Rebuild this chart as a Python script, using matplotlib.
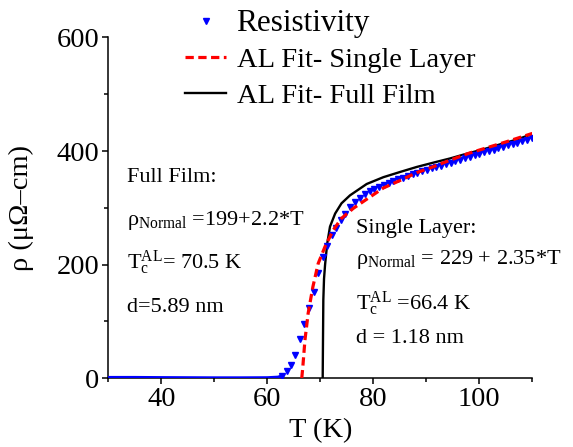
import matplotlib
matplotlib.use("Agg")
import matplotlib.pyplot as plt
from matplotlib.ticker import MultipleLocator

plt.rcParams['font.family'] = 'Liberation Serif'
plt.rcParams['mathtext.fontset'] = 'custom'
plt.rcParams['mathtext.rm'] = 'Liberation Serif'
plt.rcParams['mathtext.it'] = 'Liberation Serif:italic'

# measured resistivity, flat superconducting part (drawn as a line)
T_flat = [30, 35, 40, 45, 50, 55, 60, 62, 62.7]
rho_flat = [1.5, 1.5, 1.2, 1.0, 0.8, 0.8, 1.0, 2.0, 4.0]

# measured resistivity, transition and normal state
T_res = [62.7, 63.7, 64.4, 65.2, 66.2, 67.0, 67.9, 68.8, 69.6, 70.45,
         71.3, 72.15, 72.95, 73.85, 74.65, 75.6, 76.55, 77.5, 78.4, 79.3,
         80.2, 81.1, 82.0, 82.9, 83.8, 84.7, 85.6, 86.5, 87.4, 88.3,
         89.2, 90.1, 91.0, 91.9, 92.8, 93.7, 94.6, 95.5, 96.4, 97.3,
         98.2, 99.1, 100.0, 100.9, 101.8, 102.7, 103.6, 104.5, 105.4, 106.3,
         107.2, 108.1, 109.0, 109.9]
rho_res = [4, 12, 23, 41, 70, 95, 123, 152, 185, 214,
           232, 252, 264, 278, 290, 302, 311, 318, 325, 329,
           333, 337, 340.5, 344, 347, 350, 353, 356, 359, 361.5,
           364, 367, 369.5, 372, 374.5, 377, 379.5, 382, 385, 387.5,
           390, 392.5, 395, 397.5, 400, 402.5, 405, 407.5, 410, 412.5,
           415, 417.5, 420, 423]

# AL fit, single layer (Tc = 66.4 K, d = 1.18 nm)
T_single = [66.5, 66.7, 67.1, 67.7, 68.6, 69.6, 70.9, 72.45, 74.0, 76.2,
            78.4, 81.9, 85.0, 88.2, 91.5, 94.5, 98.0, 101.5, 105.0, 110.0]
rho_single = [0, 20, 67, 114, 161, 202, 232, 261, 281.5, 299,
              313, 335, 348, 362, 373, 384, 396, 406, 416, 431]

# AL fit, full film (Tc = 70.5 K, d = 5.89 nm)
T_full = [70.45, 70.5, 70.57, 70.7, 70.9, 71.3, 71.83, 72.8, 74.0, 75.6,
          78.75, 81.9, 85.0, 88.2, 91.5, 94.5, 97.5, 100.75, 104.0, 107.0, 110.0]
rho_full = [0, 60, 138, 175, 200, 237, 267, 290, 308, 322,
            342, 354, 363, 372, 380, 387, 395, 403, 412, 420, 430]

fig = plt.figure(figsize=(5.73, 4.47), dpi=100)
ax = fig.add_axes([0.189, 0.1537, 0.74, 0.7626])

ax.plot(T_flat, rho_flat, color="blue", linewidth=2.2, zorder=4)
ax.plot(T_res, rho_res, linestyle="none", marker="v", markersize=5,
        color="blue", label="Resistivity", zorder=4)
ax.plot(T_single, rho_single, color="red", linewidth=2.3,
        linestyle=(0, (2.6, 1.4)), label="AL Fit- Single Layer", zorder=5)
ax.plot(T_full, rho_full, color="black", linewidth=1.7,
        label="AL Fit- Full Film", zorder=3)

ax.set_xlim(30, 110)
ax.set_ylim(0, 600)
ax.xaxis.set_major_locator(MultipleLocator(20))
ax.xaxis.set_minor_locator(MultipleLocator(10))
ax.yaxis.set_major_locator(MultipleLocator(200))
ax.yaxis.set_minor_locator(MultipleLocator(100))
ax.spines['top'].set_visible(False)
ax.spines['right'].set_visible(False)
for s in ['left', 'bottom']:
    ax.spines[s].set_linewidth(1.1)
ax.tick_params(which='major', direction='out', length=4.5, width=1.1,
               labelsize=20.5, pad=2)
ax.tick_params(which='minor', direction='out', length=3, width=1.1)

ax.set_xlabel("T (K)", fontsize=20.5, labelpad=4)
ax.set_ylabel("ρ (μΩ–cm)", fontsize=20.5, labelpad=16)

# fit parameters
fs = 16
ax.text(33.5, 346, "Full Film:", fontsize=fs, va="baseline")
ax.text(33.5, 270, r"ρ$_{\mathrm{Normal}}$ =199+2.2*T", fontsize=fs, va="baseline")
ax.text(33.5, 193.5, r"T$_{\mathrm{c}}^{\mathrm{AL}}$= 70.5 K", fontsize=fs, va="baseline")
ax.text(33.5, 116.7, "d=5.89 nm", fontsize=fs, va="baseline")

ax.text(76.7, 255, "Single Layer:", fontsize=fs, va="baseline")
ax.text(76.7, 202, r"ρ$_{\mathrm{Normal}}$ = 229 + 2.35*T", fontsize=fs, va="baseline")
ax.text(76.7, 121, r"T$_{\mathrm{c}}^{\mathrm{AL}}$ =66.4 K", fontsize=fs, va="baseline")
ax.text(76.7, 62.6, "d = 1.18 nm", fontsize=fs, va="baseline")

leg = fig.legend(loc="upper left", bbox_to_anchor=(185 / 573, 1 - 9 / 447),
                 frameon=False, fontsize=20.5, handlelength=1.45,
                 handletextpad=0.36, labelspacing=0.33, borderpad=0,
                 borderaxespad=0)
leg.get_texts()[0].set_fontsize(22.5)

fig.savefig("out.png", dpi=100)
